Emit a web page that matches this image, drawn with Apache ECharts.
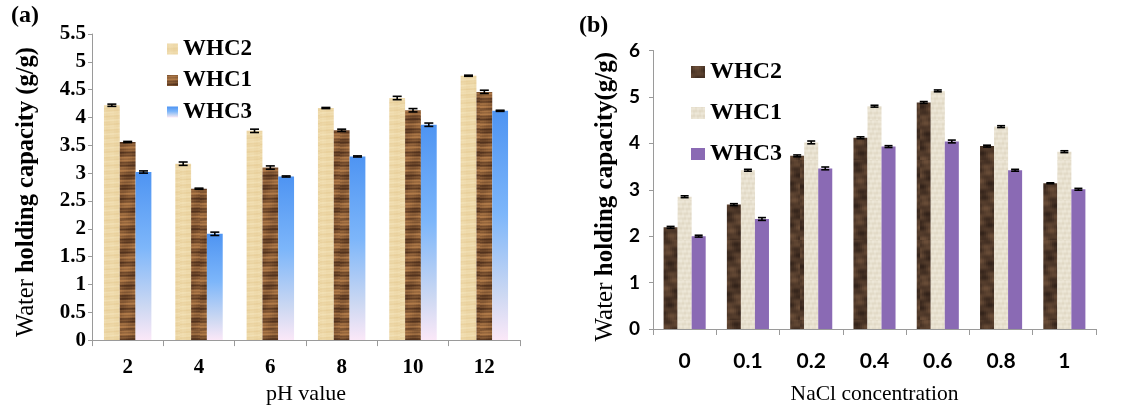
<!DOCTYPE html>
<html>
<head>
<meta charset="utf-8">
<script src="https://cdn.jsdelivr.net/npm/echarts@6/dist/echarts.min.js"></script>
<style>html,body{margin:0;padding:0;background:#fff;}#c{width:1131px;height:410px;}</style>
</head>
<body>
<div id="c"></div>
<script>
// ---------- data ----------
const phCategories = ['2', '4', '6', '8', '10', '12'];
const phWHC2 = [4.22, 3.17, 3.76, 4.17, 4.35, 4.75];
const phWHC1 = [3.56, 2.72, 3.10, 3.77, 4.13, 4.46];
const phWHC3 = [3.02, 1.91, 2.94, 3.30, 3.87, 4.12];
const phErr2 = [0.02, 0.03, 0.03, 0.01, 0.03, 0.01];
const phErr1 = [0.01, 0.01, 0.03, 0.02, 0.03, 0.03];
const phErr3 = [0.02, 0.03, 0.01, 0.01, 0.03, 0.01];

const naclCategories = ['0', '0.1', '0.2', '0.4', '0.6', '0.8', '1'];
const naclWHC2 = [2.19, 2.68, 3.73, 4.12, 4.88, 3.94, 3.14];
const naclWHC1 = [2.85, 3.42, 4.02, 4.80, 5.13, 4.36, 3.82];
const naclWHC3 = [2.00, 2.37, 3.46, 3.93, 4.04, 3.42, 3.01];
const naclErr2 = [0.02, 0.02, 0.02, 0.02, 0.02, 0.02, 0.01];
const naclErr1 = [0.02, 0.02, 0.03, 0.02, 0.02, 0.02, 0.02];
const naclErr3 = [0.02, 0.03, 0.03, 0.02, 0.03, 0.02, 0.02];

// ---------- textures (styling only) ----------
function hex(c){return [parseInt(c.substr(1,2),16),parseInt(c.substr(3,2),16),parseInt(c.substr(5,2),16)];}
function mix(a,b,t){t=Math.max(0,Math.min(1,t));const A=hex(a),B=hex(b);return 'rgb('+A.map((v,i)=>Math.round(v+(B[i]-v)*t)).join(',')+')';}
function texture(w,h,fn){const c=document.createElement('canvas');c.width=w;c.height=h;const g=c.getContext('2d');
  for(let y=0;y<h;y++){for(let x=0;x<w;x+=2){g.fillStyle=fn(x,y);g.fillRect(x,y,2,1);}}return c;}
const texBeige = texture(20, 90, (x,y)=>mix('#E4C88F','#F3E2B8',0.6+0.18*Math.sin(y*0.9)+0.12*Math.sin(y*2.3+x*0.2)+0.08*Math.sin(x*0.7)));
const texWood = texture(20, 110, (x,y)=>mix('#52321D','#B07A48',0.5+0.3*Math.sin(y*0.55)+0.2*Math.sin(y*1.9+x*0.05)+0.12*Math.sin(y*0.13+x*0.3)));
const texDark = texture(40, 80, (x,y)=>mix('#33231A','#74553D',0.42+0.2*Math.sin(y*0.17+x*0.23)+0.15*Math.sin(x*0.41-y*0.31)+0.1*Math.sin(y*0.9+x*0.1)));
const texPaper = texture(20, 40, (x,y)=>mix('#CFC4AA','#EEE8D9',0.78+0.13*Math.sin(y*1.3)+0.1*Math.sin(x*1.1+y*0.4)));

const blueGrad = new echarts.graphic.LinearGradient(0,0,0,1,[
  {offset:0,color:'#4E94F2'},{offset:0.45,color:'#7DB6FA'},{offset:0.8,color:'#CCD8F2'},{offset:1,color:'#FBE8F8'}]);

const GAP = 0.335;
const serif = 'Liberation Serif';

function errSeries(vals, errs, k, axisIdx, hw){
  return {
    type:'custom', xAxisIndex:axisIdx, yAxisIndex:axisIdx, z:10, silent:true,
    data: vals.map((v,i)=>[i, v, errs[i], k]),
    encode:{x:0, y:1},
    renderItem:(params, api)=>{
      const idx=api.value(0), v=api.value(1), e=api.value(2), kk=api.value(3);
      const bw = api.size([1,0])[0]*(1-GAP)/3;
      const cx = api.coord([idx, v])[0] + (kk-1)*bw;
      const yt = api.coord([idx, v+e])[1], yb = api.coord([idx, v-e])[1];
      const st = {stroke:'#000', lineWidth:1.6};
      return {type:'group', children:[
        {type:'line', shape:{x1:cx,y1:yt,x2:cx,y2:yb}, style:st},
        {type:'line', shape:{x1:cx-hw,y1:yt,x2:cx+hw,y2:yt}, style:st},
        {type:'line', shape:{x1:cx-hw,y1:yb,x2:cx+hw,y2:yb}, style:st}
      ]};
    }
  };
}

const axisLineStyle = {lineStyle:{color:'#9a9a9a', width:1}};

const option = {
  animation:false,
  title:[
    {text:'(a)', left:6, top:-1, textStyle:{fontFamily:serif, fontWeight:'bold', fontSize:24, color:'#000'}},
    {text:'(b)', left:574, top:9, textStyle:{fontFamily:serif, fontWeight:'bold', fontSize:24, color:'#000'}}
  ],
  legend:[
    {orient:'vertical', left:162, top:32.5, itemWidth:11, itemHeight:11, itemGap:8.5, icon:'rect',
     data:['WHC2','WHC1','WHC3'], selectedMode:false,
     textStyle:{fontFamily:serif, fontWeight:'bold', fontSize:23, color:'#000'}},
    {orient:'vertical', left:686, top:55, itemWidth:14, itemHeight:12, itemGap:17, icon:'rect',
     data:['WHC2 b','WHC1 b','WHC3 b'], selectedMode:false, formatter:n=>n.split(' ')[0],
     textStyle:{fontFamily:serif, fontWeight:'bold', fontSize:24, color:'#000'}}
  ],
  grid:[
    {left:92, right:611, top:34, bottom:68},
    {left:653, right:35, top:50.5, bottom:76.7}
  ],
  xAxis:[
    {type:'category', gridIndex:0, data:phCategories,
     axisLine:axisLineStyle, axisTick:{show:true, length:6, lineStyle:{color:'#9a9a9a'}},
     axisLabel:{margin:17, fontFamily:serif, fontWeight:'bold', fontSize:21, color:'#000'},
     name:'pH value', nameLocation:'middle', nameGap:42,
     nameTextStyle:{fontFamily:serif, fontSize:22, color:'#000'}},
    {type:'category', gridIndex:1, data:naclCategories,
     axisLine:axisLineStyle, axisTick:{show:true, length:6, lineStyle:{color:'#9a9a9a'}},
     axisLabel:{margin:22, fontFamily:'Lato', fontWeight:'bold', fontSize:21, color:'#000'},
     name:'NaCl concentration', nameLocation:'middle', nameGap:54,
     nameTextStyle:{fontFamily:serif, fontSize:21.5, color:'#000'}}
  ],
  yAxis:[
    {type:'value', gridIndex:0, min:0, max:5.5, interval:0.5,
     axisLine:{show:true, ...axisLineStyle}, axisTick:{show:true, length:4, lineStyle:{color:'#9a9a9a'}},
     splitLine:{show:false},
     axisLabel:{margin:6, fontFamily:serif, fontWeight:'bold', fontSize:21, color:'#000'},
     name:'{r|Water }{b|holding capacity (g/g)}', nameLocation:'middle', nameGap:53,
     nameTextStyle:{padding:[0,10,0,0], rich:{r:{fontFamily:serif, fontSize:24.5, color:'#000'}, b:{fontFamily:serif, fontSize:24.5, fontWeight:'bold', color:'#000'}}}},
    {type:'value', gridIndex:1, min:0, max:6, interval:1,
     axisLine:{show:true, ...axisLineStyle}, axisTick:{show:true, length:4, lineStyle:{color:'#9a9a9a'}},
     splitLine:{show:false},
     axisLabel:{margin:13, fontFamily:'Lato', fontWeight:'bold', fontSize:19, color:'#000'},
     name:'{r|Water }{b|holding capacity(g/g)}', nameLocation:'middle', nameGap:35,
     nameTextStyle:{padding:[0,14,0,0], rich:{r:{fontFamily:serif, fontSize:25, color:'#000'}, b:{fontFamily:serif, fontSize:25, fontWeight:'bold', color:'#000'}}}}
  ],
  series:[
    {name:'WHC2', type:'bar', xAxisIndex:0, yAxisIndex:0, data:phWHC2, barGap:'0%', barCategoryGap:(GAP*100)+'%',
     itemStyle:{color:{image:texBeige, repeat:'repeat'}}},
    {name:'WHC1', type:'bar', xAxisIndex:0, yAxisIndex:0, data:phWHC1, barGap:'0%', barCategoryGap:(GAP*100)+'%',
     itemStyle:{color:{image:texWood, repeat:'repeat'}}},
    {name:'WHC3', type:'bar', xAxisIndex:0, yAxisIndex:0, data:phWHC3, barGap:'0%', barCategoryGap:(GAP*100)+'%',
     itemStyle:{color:blueGrad}},
    {name:'WHC2 b', type:'bar', xAxisIndex:1, yAxisIndex:1, data:naclWHC2, barGap:'0%', barCategoryGap:(GAP*100)+'%',
     itemStyle:{color:{image:texDark, repeat:'repeat'}}},
    {name:'WHC1 b', type:'bar', xAxisIndex:1, yAxisIndex:1, data:naclWHC1, barGap:'0%', barCategoryGap:(GAP*100)+'%',
     itemStyle:{color:{image:texPaper, repeat:'repeat'}}},
    {name:'WHC3 b', type:'bar', xAxisIndex:1, yAxisIndex:1, data:naclWHC3, barGap:'0%', barCategoryGap:(GAP*100)+'%',
     itemStyle:{color:'#8A6AB4'}},
    errSeries(phWHC2, phErr2, 0, 0, 4.5),
    errSeries(phWHC1, phErr1, 1, 0, 4.5),
    errSeries(phWHC3, phErr3, 2, 0, 4.5),
    errSeries(naclWHC2, naclErr2, 0, 1, 4),
    errSeries(naclWHC1, naclErr1, 1, 1, 4),
    errSeries(naclWHC3, naclErr3, 2, 1, 4)
  ]
};
const chart = echarts.init(document.getElementById('c'), null, {renderer:'canvas'});
chart.setOption(option);
</script>
</body>
</html>
